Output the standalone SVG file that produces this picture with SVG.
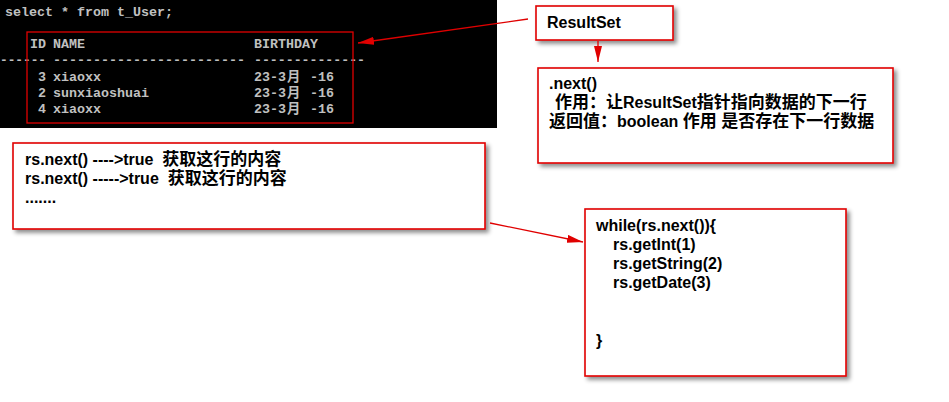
<svg xmlns="http://www.w3.org/2000/svg" width="949" height="402" viewBox="0 0 949 402">
<defs>
<style>
.con{font-family:"Liberation Mono","Noto Sans CJK SC",monospace;font-size:13.33px;font-weight:bold;fill:#c0c0c0}
.box{fill:#fff;stroke:#e00000;stroke-width:1.6}
.t{font-family:"Liberation Sans","Noto Sans CJK SC",sans-serif;font-size:16px;font-weight:bold;fill:#000}
.c{font-size:17px}
.arr{stroke:#e00000;stroke-width:1.3;fill:none}
</style>
<filter id="sh" x="-10%" y="-10%" width="130%" height="140%">
<feDropShadow dx="3" dy="3" stdDeviation="2" flood-color="#000" flood-opacity="0.45"/>
</filter>
<marker id="ah" viewBox="0 0 16 8" refX="16" refY="4" markerWidth="16" markerHeight="8" markerUnits="userSpaceOnUse" orient="auto">
<path d="M0,0 L16,4 L0,8 z" fill="#e00000"/>
</marker>
</defs>
<rect width="949" height="402" fill="#fff"/>
<g id="console">
<rect x="0" y="0" width="497" height="128" fill="#000"/>
<text class="con" x="5" y="16">select * from t_User;</text>
<text class="con" x="30" y="48">ID</text>
<text class="con" x="53" y="48">NAME</text>
<text class="con" x="254" y="48">BIRTHDAY</text>
<text class="con" x="0" y="64" textLength="46" lengthAdjust="spacingAndGlyphs">------</text>
<text class="con" x="53" y="64" textLength="192" lengthAdjust="spacingAndGlyphs">------------------------</text>
<text class="con" x="254" y="64" textLength="111" lengthAdjust="spacingAndGlyphs">--------------</text>
<text class="con" x="38" y="81">3</text>
<text class="con" x="53" y="81">xiaoxx</text>
<text class="con" x="254" y="81">23-3</text>
<text class="con" x="287" y="81" font-weight="normal">月</text>
<text class="con" x="310" y="81">-16</text>
<text class="con" x="38" y="97">2</text>
<text class="con" x="53" y="97">sunxiaoshuai</text>
<text class="con" x="254" y="97">23-3</text>
<text class="con" x="287" y="97" font-weight="normal">月</text>
<text class="con" x="310" y="97">-16</text>
<text class="con" x="38" y="113">4</text>
<text class="con" x="53" y="113">xiaoxx</text>
<text class="con" x="254" y="113">23-3</text>
<text class="con" x="287" y="113" font-weight="normal">月</text>
<text class="con" x="310" y="113">-16</text>
<rect x="27" y="32" width="326" height="91" fill="none" stroke="#e00000" stroke-width="1.3"/>
</g>
<g id="resultset">
<rect class="box" x="536" y="6" width="137" height="34" filter="url(#sh)"/>
<text class="t" x="547" y="28">ResultSet</text>
</g>
<g id="next">
<rect class="box" x="538" y="68" width="355" height="95" filter="url(#sh)"/>
<text class="t" x="549" y="89">.next()</text>
<text class="t" x="555" y="108"><tspan class="c">作用：让</tspan>ResultSet<tspan class="c">指针指向数据的下一行</tspan></text>
<text class="t" x="549" y="127" xml:space="preserve"><tspan class="c">返回值：</tspan>boolean <tspan class="c">作用</tspan> <tspan class="c">是否存在下一行数据</tspan></text>
</g>
<g id="rsnext">
<rect class="box" x="13" y="143" width="472" height="86" filter="url(#sh)"/>
<text class="t" x="25" y="165" xml:space="preserve">rs.next() ----&gt;true  <tspan class="c">获取这行的内容</tspan></text>
<text class="t" x="25" y="184" xml:space="preserve">rs.next() -----&gt;true  <tspan class="c">获取这行的内容</tspan></text>
<text class="t" x="25" y="203">.......</text>
</g>
<g id="while">
<rect class="box" x="585" y="209" width="261" height="167" filter="url(#sh)"/>
<text class="t" x="596" y="231">while(rs.next()){</text>
<text class="t" x="613" y="250">rs.getInt(1)</text>
<text class="t" x="613" y="269">rs.getString(2)</text>
<text class="t" x="613" y="288">rs.getDate(3)</text>
<text class="t" x="596" y="346">}</text>
</g>
<g id="connectors">
<line class="arr" x1="528" y1="19" x2="358" y2="43" marker-end="url(#ah)"/>
<line class="arr" x1="598" y1="41" x2="598" y2="62" marker-end="url(#ah)"/>
<line class="arr" x1="490" y1="223" x2="583" y2="242" marker-end="url(#ah)"/>
</g>
</svg>
